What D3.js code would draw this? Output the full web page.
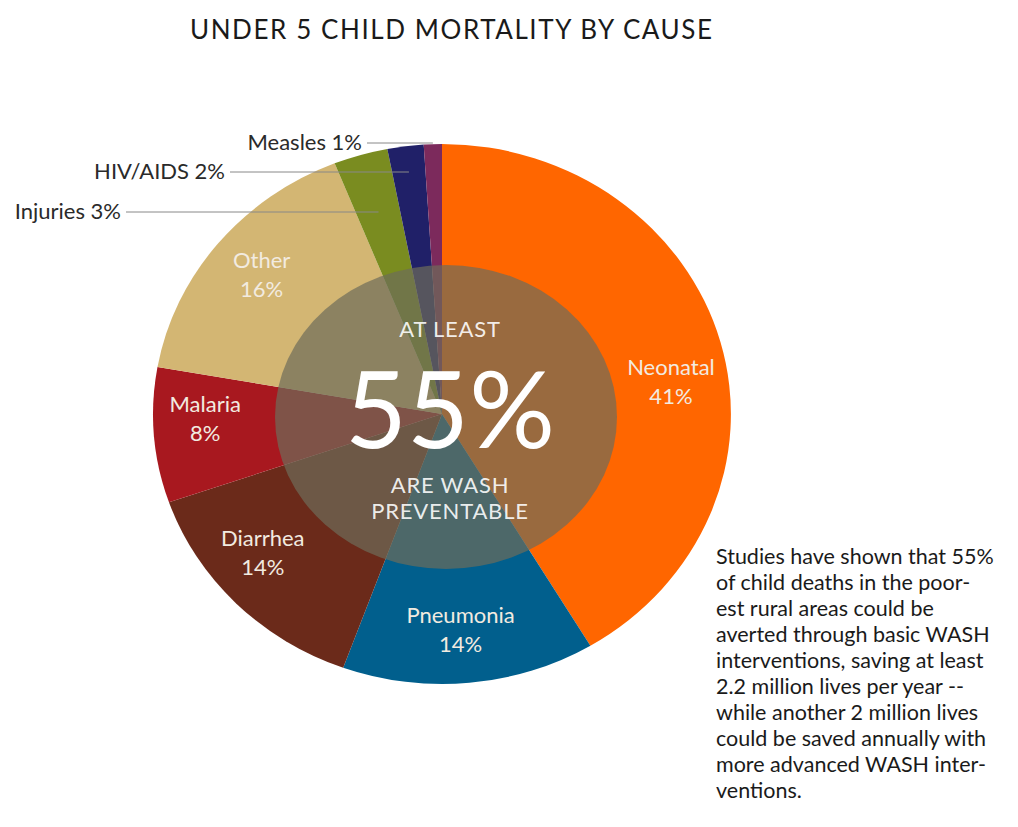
<!DOCTYPE html>
<html>
<head>
<meta charset="utf-8">
<script src="https://cdn.jsdelivr.net/npm/d3@7"></script>
<style>
  body { margin: 0; background: #fff; }
  svg { display: block; }
  text { font-family: "Lato", "Open Sans", sans-serif; }
</style>
</head>
<body>
<script>
// causes, clockwise from 12 o'clock
const causes = ['Neonatal', 'Pneumonia', 'Diarrhea', 'Malaria', 'Other', 'Injuries', 'HIV/AIDS', 'Measles'];
const shares = [41, 14, 14, 8, 16, 3, 2, 1];
const colors = ['#ff6600', '#015f8d', '#6b2a1a', '#a8181f', '#d3b673', '#7a8c20', '#202068', '#7c2a5c'];

const noteLines = [
    'Studies have shown that 55%',
    'of child deaths in the poor-',
    'est rural areas could be',
    'averted through basic WASH',
    'interventions, saving at least',
    '2.2 million lives per year  --',
    'while another 2 million lives',
    'could be saved annually with',
    'more advanced WASH inter-',
    'ventions.'
];

const draw = () => {
    let w = 1018,
        h = 827;

    let cx = 442, cy = 414,
        r = 270,
        sx = 1.07; // pie is a bit wider than tall in the picture

    let svg = d3.select('body')
        .append('svg')
        .attr('width', w)
        .attr('height', h);

    //Title
    svg.append('text')
        .attr('x', 451)
        .attr('y', 39)
        .attr('text-anchor', 'middle')
        .attr('font-size', 26)
        .attr('textLength', 522)
        .attr('lengthAdjust', 'spacing')
        .attr('fill', '#1a1a1a')
        .text('UNDER 5 CHILD MORTALITY BY CAUSE');

    let data = causes.map((c, i) => ({ cause: c, value: shares[i], color: colors[i] }));

    let pie = d3.pie()
        .sort(null)
        .value(d => d.value);

    let arcs = pie(data);

    let arc = d3.arc()
        .innerRadius(0)
        .outerRadius(r);

    let labelArc = d3.arc()
        .innerRadius(222)
        .outerRadius(222);

    let g = svg.append('g')
        .attr('transform', `translate(${cx},${cy}) scale(${sx},1)`);

    g.selectAll('path')
        .data(arcs)
        .enter()
        .append('path')
        .attr('d', arc)
        .attr('fill', d => d.data.color);

    //translucent disc in the middle
    svg.append('ellipse')
        .attr('cx', 446)
        .attr('cy', 417)
        .attr('rx', 171)
        .attr('ry', 152)
        .attr('fill', 'rgb(110,108,90)')
        .attr('fill-opacity', 0.7);

    //labels inside the big slices (small nudges to sit where the original has them)
    let nudge = { 'Neonatal': [0, 26], 'Pneumonia': [-4, -6], 'Diarrhea': [-10, -18], 'Malaria': [0, -14], 'Other': [4, 0] };
    let big = arcs.filter(d => d.data.value >= 5);
    let lab = svg.selectAll('.inlabel')
        .data(big)
        .enter()
        .append('text')
        .attr('class', 'inlabel')
        .attr('text-anchor', 'middle')
        .attr('font-size', 22)
        .attr('fill', '#f2ebe0')
        .attr('transform', d => {
            let c = labelArc.centroid(d);
            let n = nudge[d.data.cause];
            return `translate(${cx + c[0] * sx + n[0]},${cy + c[1] + n[1]})`;
        });
    lab.append('tspan')
        .attr('x', 0)
        .attr('y', -6)
        .text(d => d.data.cause);
    lab.append('tspan')
        .attr('x', 0)
        .attr('y', 23)
        .text(d => d.data.value + '%');

    //small slices: labels out to the left with leader lines
    let small = arcs.filter(d => d.data.value < 5);
    let leaderY = { 'Measles': 143, 'HIV/AIDS': 172, 'Injuries': 212 };
    let textEnd = { 'Measles': 362, 'HIV/AIDS': 225, 'Injuries': 121 };

    small.forEach(d => {
        let mid = (d.startAngle + d.endAngle) / 2;
        let y = leaderY[d.data.cause];
        let rr = Math.min(r - 1, (cy - y) / Math.cos(mid));
        let x = cx + sx * rr * Math.sin(mid);

        svg.append('line')
            .attr('x1', textEnd[d.data.cause] + 5)
            .attr('x2', x)
            .attr('y1', y)
            .attr('y2', y)
            .attr('stroke', '#888')
            .attr('stroke-width', 1);

        svg.append('text')
            .attr('x', textEnd[d.data.cause])
            .attr('y', y + 7)
            .attr('text-anchor', 'end')
            .attr('font-size', 22)
            .attr('fill', '#2a2a2a')
            .text(d.data.cause + ' ' + d.data.value + '%');
    });

    //centre message
    let centre = svg.append('g')
        .attr('fill', '#fff')
        .attr('text-anchor', 'middle');

    centre.append('text')
        .attr('x', 450)
        .attr('y', 337)
        .attr('font-size', 22)
        .attr('letter-spacing', 0.8)
        .attr('fill-opacity', 0.9)
        .text('AT LEAST');

    centre.append('text')
        .attr('x', 450)
        .attr('y', 448)
        .attr('font-size', 106)
        .attr('textLength', 210)
        .attr('lengthAdjust', 'spacingAndGlyphs')
        .text('55%');

    centre.append('text')
        .attr('x', 450)
        .attr('y', 493)
        .attr('font-size', 22)
        .attr('letter-spacing', 0.8)
        .attr('fill-opacity', 0.9)
        .text('ARE WASH');

    centre.append('text')
        .attr('x', 450)
        .attr('y', 519)
        .attr('font-size', 22)
        .attr('letter-spacing', 0.8)
        .attr('fill-opacity', 0.9)
        .text('PREVENTABLE');

    //side note
    svg.append('g')
        .selectAll('text')
        .data(noteLines)
        .enter()
        .append('text')
        .attr('x', 716)
        .attr('y', (d, i) => 564 + i * 26)
        .attr('font-size', 21.5)
        .attr('fill', '#1a1a1a')
        .text(d => d);
}

draw()
</script>
</body>
</html>
